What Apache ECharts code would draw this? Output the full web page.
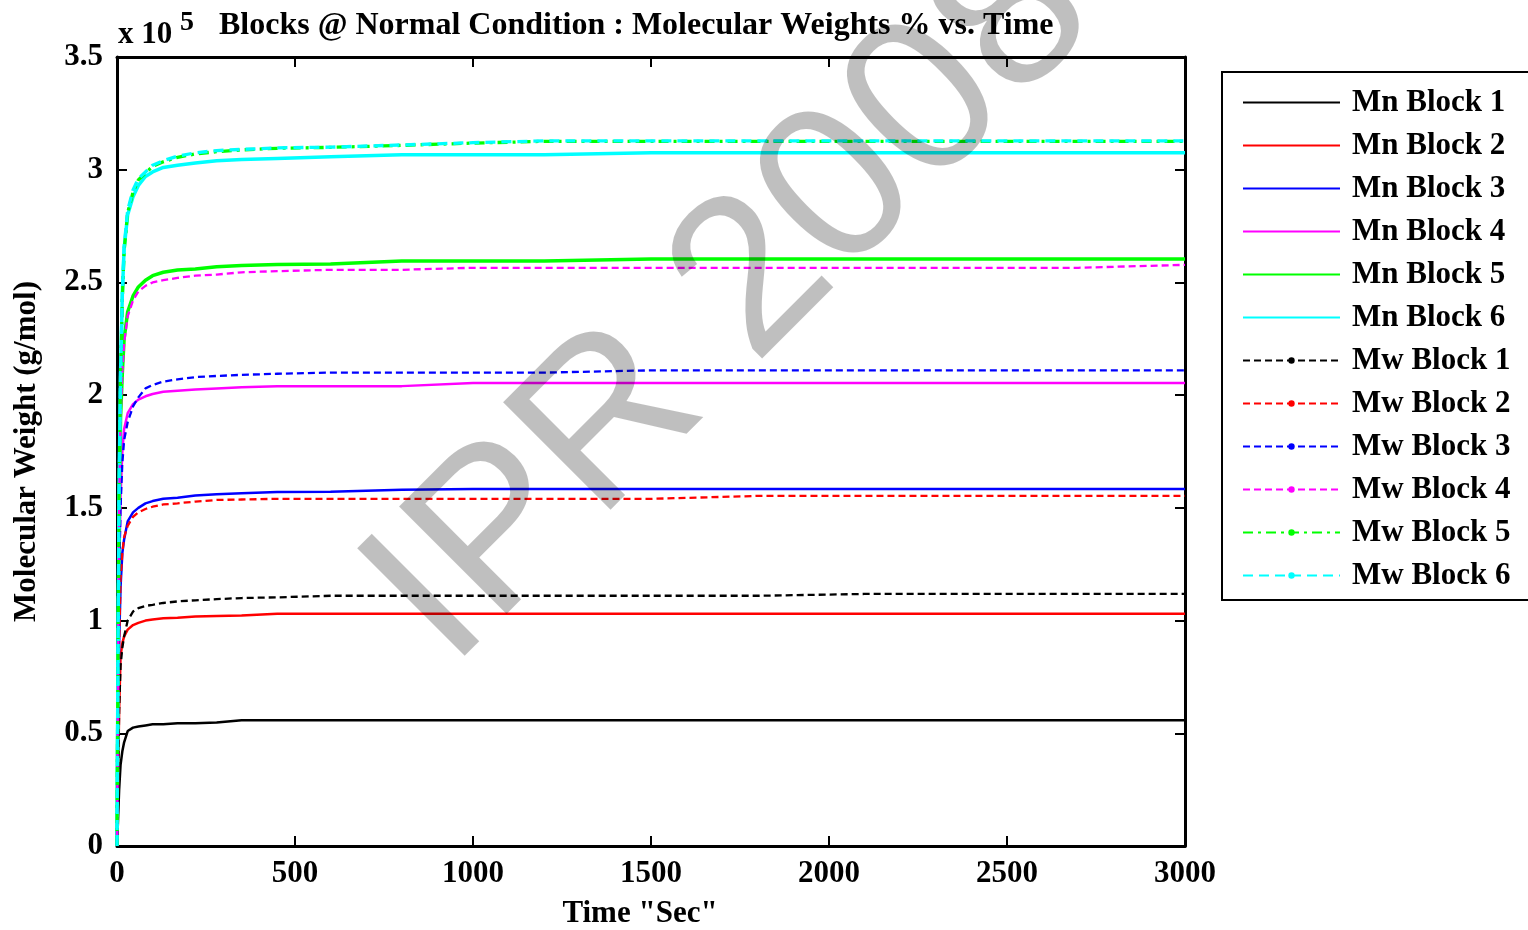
<!DOCTYPE html>
<html>
<head>
<meta charset="utf-8">
<title>Blocks @ Normal Condition</title>
<script src="https://cdn.jsdelivr.net/npm/echarts@6/dist/echarts.min.js"></script>
<style>
  html, body { margin: 0; padding: 0; background: #fff; }
  #chart { width: 1528px; height: 930px; }
</style>
</head>
<body>
<div id="chart"></div>
<script>
// time in seconds, molecular weights in units of 1e5 g/mol
const times = [0, 3, 6, 10, 15, 20, 30, 45, 60, 80, 100, 130, 170, 220, 280, 350, 450, 600, 800, 1000, 1200, 1500, 1800, 2100, 2400, 2700, 3000];

const mn1 = [0, 0.12, 0.25, 0.36, 0.42, 0.46, 0.51, 0.525, 0.53, 0.535, 0.54, 0.54, 0.545, 0.545, 0.548, 0.558, 0.558, 0.558, 0.558, 0.558, 0.558, 0.558, 0.558, 0.558, 0.558, 0.558, 0.558];
const mn2 = [0, 0.3, 0.6, 0.84, 0.9, 0.93, 0.96, 0.98, 0.99, 1.0, 1.005, 1.01, 1.013, 1.018, 1.02, 1.022, 1.03, 1.03, 1.03, 1.03, 1.03, 1.03, 1.03, 1.03, 1.03, 1.03, 1.03];
const mn3 = [0, 0.4, 0.9, 1.15, 1.3, 1.36, 1.44, 1.48, 1.5, 1.52, 1.53, 1.54, 1.545, 1.555, 1.56, 1.565, 1.57, 1.572, 1.58, 1.584, 1.584, 1.584, 1.584, 1.584, 1.584, 1.584, 1.584];
const mn4 = [0, 0.6, 1.2, 1.55, 1.75, 1.85, 1.92, 1.96, 1.98, 1.995, 2.005, 2.015, 2.02, 2.025, 2.03, 2.035, 2.04, 2.04, 2.04, 2.054, 2.054, 2.054, 2.054, 2.054, 2.054, 2.054, 2.054];
const mn5 = [0, 0.8, 1.5, 1.9, 2.1, 2.25, 2.37, 2.44, 2.48, 2.51, 2.53, 2.545, 2.555, 2.56, 2.57, 2.575, 2.58, 2.582, 2.595, 2.595, 2.595, 2.604, 2.604, 2.604, 2.604, 2.604, 2.604];
const mn6 = [0, 0.9, 1.6, 2.1, 2.45, 2.65, 2.8, 2.88, 2.93, 2.97, 2.99, 3.01, 3.02, 3.03, 3.04, 3.045, 3.05, 3.057, 3.066, 3.066, 3.066, 3.075, 3.075, 3.075, 3.075, 3.075, 3.075];

const mw1 = [0, 0.3, 0.6, 0.8, 0.88, 0.93, 1.0, 1.04, 1.055, 1.065, 1.07, 1.078, 1.085, 1.09, 1.095, 1.1, 1.103, 1.11, 1.11, 1.11, 1.11, 1.11, 1.11, 1.118, 1.118, 1.118, 1.118];
const mw2 = [0, 0.4, 0.9, 1.18, 1.3, 1.37, 1.42, 1.46, 1.48, 1.495, 1.505, 1.515, 1.52, 1.528, 1.535, 1.537, 1.54, 1.54, 1.54, 1.54, 1.54, 1.54, 1.553, 1.553, 1.553, 1.553, 1.553];
const mw3 = [0, 0.6, 1.2, 1.5, 1.7, 1.8, 1.88, 1.95, 1.99, 2.03, 2.045, 2.06, 2.07, 2.08, 2.085, 2.09, 2.095, 2.1, 2.1, 2.1, 2.1, 2.11, 2.11, 2.11, 2.11, 2.11, 2.11];
const mw4 = [0, 0.8, 1.5, 1.9, 2.1, 2.23, 2.35, 2.42, 2.46, 2.485, 2.5, 2.51, 2.52, 2.53, 2.535, 2.545, 2.55, 2.556, 2.556, 2.565, 2.565, 2.565, 2.565, 2.565, 2.565, 2.565, 2.578];
const mw5 = [0, 0.88, 1.58, 2.08, 2.43, 2.64, 2.81, 2.9, 2.955, 2.985, 3.015, 3.035, 3.055, 3.07, 3.08, 3.088, 3.095, 3.099, 3.108, 3.118, 3.126, 3.126, 3.126, 3.126, 3.126, 3.126, 3.126];
const mw6 = [0, 0.9, 1.6, 2.1, 2.45, 2.66, 2.82, 2.91, 2.96, 2.99, 3.02, 3.04, 3.06, 3.075, 3.085, 3.09, 3.097, 3.1, 3.11, 3.12, 3.128, 3.128, 3.128, 3.128, 3.128, 3.128, 3.128];

const xTicks = { min: 0, max: 3000, interval: 500 };
const yTicks = { min: 0, max: 3.5, interval: 0.5 };

const FONT = "'Liberation Serif', 'Times New Roman', serif";

var lines = [
  { name: "Mn Block 1", data: mn1, color: "#000000", width: 2.5, type: "solid" },
  { name: "Mn Block 2", data: mn2, color: "#ff0000", width: 2.5, type: "solid" },
  { name: "Mn Block 3", data: mn3, color: "#0000ff", width: 2.5, type: "solid" },
  { name: "Mn Block 4", data: mn4, color: "#ff00ff", width: 2.5, type: "solid" },
  { name: "Mn Block 5", data: mn5, color: "#00ff00", width: 3.5, type: "solid" },
  { name: "Mn Block 6", data: mn6, color: "#00ffff", width: 3.5, type: "solid" },
  { name: "Mw Block 1", data: mw1, color: "#000000", width: 2.3, type: [7, 4] },
  { name: "Mw Block 2", data: mw2, color: "#ff0000", width: 2.3, type: [7, 4] },
  { name: "Mw Block 3", data: mw3, color: "#0000ff", width: 2.3, type: [7, 4] },
  { name: "Mw Block 4", data: mw4, color: "#ff00ff", width: 2.3, type: [7, 4] },
  { name: "Mw Block 5", data: mw5, color: "#00ff00", width: 3.3, type: [10, 5, 3, 5] },
  { name: "Mw Block 6", data: mw6, color: "#00ffff", width: 3.3, type: [10, 6] },
];

var series = lines.map(function (l) {
  return {
    name: l.name,
    type: "line",
    xAxisIndex: 0,
    yAxisIndex: 0,
    data: times.map(function (t, i) { return [t, l.data[i]]; }),
    showSymbol: false,
    symbol: "circle",
    symbolSize: 6,
    smooth: false,
    silent: true,
    lineStyle: { color: l.color, width: l.width, type: l.type },
    itemStyle: { color: l.color },
  };
});

var legendData = lines.map(function (l) {
  if (l.name.indexOf("Mn") === 0) {
    return { name: l.name, itemStyle: { opacity: 0 } };
  }
  return { name: l.name };
});

var axisLine = { show: true, onZero: false, lineStyle: { color: "#000", width: 3 } };
var axisTick = { show: true, inside: true, length: 10, lineStyle: { color: "#000", width: 2 } };
var labelStyle = { color: "#000", fontFamily: FONT, fontWeight: "bold", fontSize: 31 };

var myChart = echarts.init(document.getElementById("chart"), null, { renderer: "canvas" });

var option = {
  animation: false,
  backgroundColor: "#fff",
  title: {
    text: "Blocks @ Normal Condition : Molecular Weights % vs. Time",
    left: 219,
    top: 10,
    padding: 0,
    textStyle: { color: "#000", fontFamily: FONT, fontWeight: "bold", fontSize: 32 },
  },
  grid: { left: 117, right: 343, top: 57, bottom: 84, outerBoundsMode: "none", containLabel: false },
  legend: {
    orient: "vertical",
    left: 1222,
    top: 72,
    padding: [15, 30, 9, 20],
    borderColor: "#000",
    borderWidth: 2,
    itemWidth: 97,
    itemHeight: 8,
    itemGap: 12,
    data: legendData,
    textStyle: {
      color: "#000",
      fontFamily: FONT,
      fontWeight: "bold",
      fontSize: 31,
      lineHeight: 31,
      padding: [0, 0, 0, 7],
    },
  },
  xAxis: [
    {
      type: "value",
      position: "bottom",
      min: xTicks.min,
      max: xTicks.max,
      interval: xTicks.interval,
      axisLine: axisLine,
      axisTick: axisTick,
      axisLabel: Object.assign({ margin: 12, formatter: function (v) { return String(v); } }, labelStyle),
      splitLine: { show: false },
      name: 'Time "Sec"',
      nameLocation: "middle",
      nameGap: 52,
      nameTextStyle: Object.assign({ padding: [0, 22, 0, 0] }, labelStyle),
    },
    {
      type: "value",
      position: "top",
      min: xTicks.min,
      max: xTicks.max,
      interval: xTicks.interval,
      axisLine: axisLine,
      axisTick: axisTick,
      axisLabel: { show: false },
      splitLine: { show: false },
    },
  ],
  yAxis: [
    {
      type: "value",
      position: "left",
      min: yTicks.min,
      max: yTicks.max,
      interval: yTicks.interval,
      axisLine: axisLine,
      axisTick: axisTick,
      axisLabel: Object.assign({ margin: 14 }, labelStyle),
      splitLine: { show: false },
      name: "Molecular Weight (g/mol)",
      nameLocation: "middle",
      nameGap: 75,
      nameTextStyle: labelStyle,
    },
    {
      type: "value",
      position: "right",
      min: yTicks.min,
      max: yTicks.max,
      interval: yTicks.interval,
      axisLine: axisLine,
      axisTick: axisTick,
      axisLabel: { show: false },
      splitLine: { show: false },
    },
  ],
  graphic: [
    {
      type: "text",
      x: 118,
      y: 50,
      style: {
        text: "x 10",
        font: "bold 31px " + FONT,
        fill: "#000",
        textAlign: "left",
        textVerticalAlign: "bottom",
      },
    },
    {
      type: "text",
      x: 180,
      y: 37,
      style: {
        text: "5",
        font: "bold 28px " + FONT,
        fill: "#000",
        textAlign: "left",
        textVerticalAlign: "bottom",
      },
    },
    {
      // watermark
      type: "text",
      x: 329,
      y: 549,
      rotation: Math.PI / 4,
      z: 100,
      silent: true,
      style: {
        text: "IPR 2008",
        font: "221px 'Liberation Sans', Arial, sans-serif",
        fill: "rgba(0,0,0,0.25)",
        textAlign: "left",
        textVerticalAlign: "top",
      },
    },
  ],
  series: series,
};

myChart.setOption(option);
window.addEventListener("resize", myChart.resize);
</script>
</body>
</html>
